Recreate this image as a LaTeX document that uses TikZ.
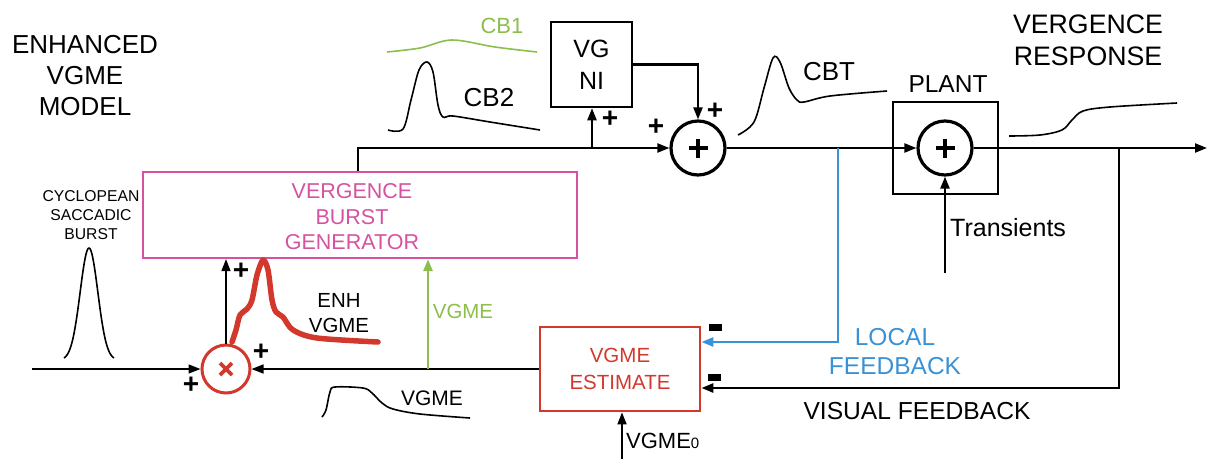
\documentclass[tikz,border=0pt]{standalone}
\usepackage{fontspec}
\setmainfont{Liberation Sans}
\usetikzlibrary{arrows.meta}
\definecolor{pinkc}{RGB}{214,82,160}
\definecolor{redc}{RGB}{210,56,44}
\definecolor{greenc}{RGB}{140,190,75}
\definecolor{bluec}{RGB}{58,146,214}
\newcommand\myfs[2]{\fontsize{#1}{#2}\selectfont}
\tikzset{
  ar/.style={-{Triangle[length=12pt,width=9pt]}},
  thickln/.style={line width=2.2pt},
  thinln/.style={line width=1.5pt},
  sketch/.style={line width=1.6pt, smooth, tension=0.55},
  blkbox/.style={draw, line width=2.5pt, inner sep=0pt},
  sumc/.style={draw, circle, line width=3.2pt, minimum size=54pt, inner sep=0pt,
    path picture={\draw[line width=4.5pt] (path picture bounding box.center) +(-9.5,0) -- +(9.5,0)
      (path picture bounding box.center) +(0,-9.5) -- +(0,9.5);}},
  mulc/.style={draw=redc, circle, line width=3pt, minimum size=48pt, inner sep=0pt,
    path picture={\draw[redc, line width=3.8pt] (path picture bounding box.center) +(-6,-6) -- +(6,6)
      (path picture bounding box.center) +(-6,6) -- +(6,-6);}},
  plus/.style={font=\myfs{28}{28}\bfseries, inner sep=0pt},
  minus/.style={fill, minimum width=13pt, minimum height=7pt, inner sep=0pt},
  lbl/.style={align=center, inner sep=0pt},
}
\begin{document}
\begin{tikzpicture}[x=1pt,y=-1pt]
\useasboundingbox (0,0) rectangle (1208,459);

% ---- blocks ----
\node[blkbox, minimum width=81pt, minimum height=85pt, lbl, font=\myfs{25}{32}] (vgni) at (591.5,64.5) {VG\\NI};
\node[sumc] (s1) at (698,148) {};
\node[blkbox, minimum width=105pt, minimum height=92pt] (plant) at (945.5,148) {};
\node[sumc] (s2) at (945,148) {};
\node[draw=pinkc, line width=2.2pt, minimum width=434pt, minimum height=86pt, inner sep=0pt] (vbg) at (360,215) {};
\node[lbl, text=pinkc, font=\myfs{21.5}{25.5}] (vbgtxt) at (352,217) {VERGENCE\\BURST\\GENERATOR};
\node[draw=redc, line width=2.8pt, minimum width=160pt, minimum height=84pt, lbl, text=redc, font=\myfs{20.5}{27}] (est) at (620,369) {VGME\\ESTIMATE};
\node[mulc] (m) at (226,369) {};

% ---- coordinates ----
\coordinate (j1) at (358,148);
\coordinate (b1) at (592,148);
\coordinate (outp) at (1207,148);
\coordinate (tr) at (945,273);
\coordinate (vf) at (1119,148);
\coordinate (lf) at (838,148);
\coordinate (v0) at (622,459);
\coordinate (g1) at (428,369);
\coordinate (inp) at (32,369);

% ---- connectors ----
\draw[thickln, ar] (vbg.north -| j1) -- (j1) -- (s1.west);
\draw[thickln, ar] (b1) -- (vgni.south -| b1);
\draw[thickln, ar] (vgni.east) -| (s1.north);
\draw[thickln, ar] (s1.east) -- (s2.west);
\draw[thickln, ar] (s2.east) -- (outp);
\draw[thickln, ar] (tr) -- (s2.south);
\draw[line width=2.6pt, ar] (vf) |- ([yshift=-19pt]est.east);
\draw[line width=2.6pt, bluec, ar] (lf) |- ([yshift=27pt]est.east);
\draw[line width=1.8pt, ar] (v0) -- (est.south -| v0);
\draw[thinln, ar] (est.west) -- (m.east);
\draw[line width=2.6pt, greenc, ar] (g1) -- (vbg.south -| g1);
\draw[thinln, ar] (inp) -- (m.west);
\draw[thinln, ar] (m.north) -- (vbg.south -| m.north);

% ---- signs ----
\node[plus] (p1) at (610,119) {+};
\node[plus] (p2) at (656,127) {+};
\node[plus] (p3) at (715,111) {+};
\node[plus] (p4) at (241,271) {+};
\node[plus] (p5) at (261,352) {+};
\node[plus] (p6) at (191,385) {+};
\node[minus] (n1) at (715.5,327) {};
\node[minus] (n2) at (714.5,377.5) {};

% ---- signal sketches ----
\draw[sketch, greenc] plot coordinates {(387,52) (420,48) (452,40) (495,47) (537,52)};
\draw[sketch] plot coordinates {(388,130) (403,129) (411,100) (419,70) (427,62) (433,72) (438,105) (443,117) (453,116) (490,122) (540,130)};
\draw[sketch] plot coordinates {(738,135) (754,122) (764,88) (773,58) (780,62) (789,88) (797,100) (804,102) (830,96) (887,91)};
\draw[sketch] plot coordinates {(1009,136) (1040,135) (1062,130) (1072,120) (1083,111) (1110,107) (1177,103)};
\draw[line width=1.6pt, smooth] plot[domain=64:114, samples=60] (\x, {360-112*exp(-((\x-89)/12.5)^2)});
\draw[sketch] plot coordinates {(322,417) (326,410) (330,392) (335,387) (363,388) (372,393) (382,403) (393,409) (420,414) (470,418)};
\draw[redc, line width=5.5pt, line cap=round, line join=round, smooth, tension=0.5] plot coordinates {(232,342) (236,330) (240,315) (247,309) (252,300) (257,275) (263,260) (268,270) (272,300) (276,312) (283,317) (293,330) (317,338) (378,342)};

% ---- texts ----
\node[lbl, font=\myfs{26}{31}] (title) at (85,76) {ENHANCED\\VGME\\MODEL};
\node[lbl, text=greenc, font=\myfs{22}{22}] (cb1) at (502,26) {CB1};
\node[lbl, font=\myfs{26}{26}] (cb2) at (489,98) {CB2};
\node[lbl, font=\myfs{26}{26}] (cbt) at (829,72) {CBT};
\node[lbl, font=\myfs{24.5}{24.5}] (plantlbl) at (948,84) {PLANT};
\node[lbl, font=\myfs{26.7}{32}] (resp) at (1088,40) {VERGENCE\\RESPONSE};
\node[lbl, anchor=west, font=\myfs{25}{25}] (trl) at (950,228) {Transients};
\node[lbl, text=bluec, font=\myfs{24.5}{29}] (loc) at (895,352) {LOCAL\\FEEDBACK};
\node[lbl, font=\myfs{24.6}{24.6}] (vis) at (917,411) {VISUAL FEEDBACK};
\node[lbl, anchor=west, font=\myfs{22}{22}] (v0l) at (626,441) {VGME{\myfs{15}{15}0}};
\node[lbl, text=greenc, font=\myfs{20.4}{20.4}] (vg) at (463,311) {VGME};
\node[lbl, font=\myfs{20.4}{25}] (enh) at (339,313) {ENH\\VGME};
\node[lbl, font=\myfs{21}{21}] (vgb) at (432,398) {VGME};
\node[lbl, font=\myfs{15.7}{18.6}] (cyc) at (91,215) {CYCLOPEAN\\SACCADIC\\BURST};
\end{tikzpicture}
\end{document}
